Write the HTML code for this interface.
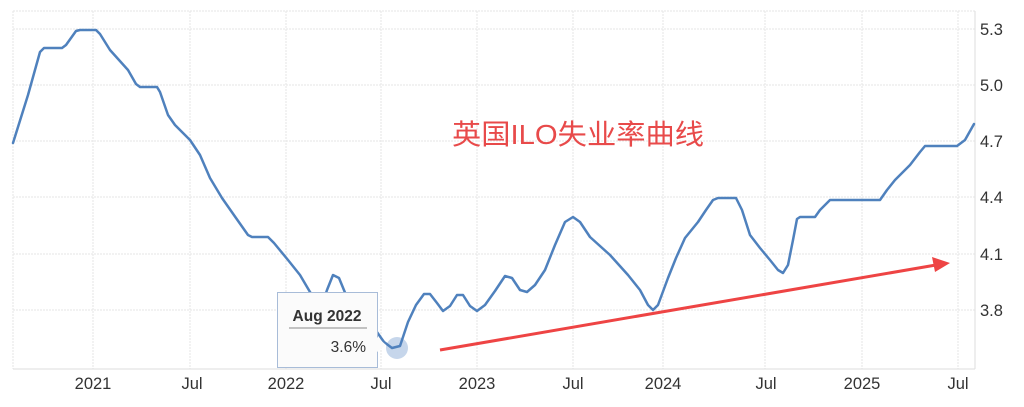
<!DOCTYPE html>
<html><head><meta charset="utf-8"><style>
body{margin:0;background:#fff;width:1024px;height:402px;overflow:hidden;font-family:"Liberation Sans",sans-serif}
</style></head><body>
<svg width="1024" height="402" xmlns="http://www.w3.org/2000/svg" font-family="Liberation Sans, sans-serif">
<g stroke="#e6e6e6" stroke-width="1" stroke-dasharray="2,1">
<line x1="13" y1="11" x2="975" y2="11"/>
<line x1="13" y1="29" x2="975" y2="29"/><line x1="13" y1="85" x2="975" y2="85"/><line x1="13" y1="141" x2="975" y2="141"/><line x1="13" y1="197" x2="975" y2="197"/><line x1="13" y1="254" x2="975" y2="254"/><line x1="13" y1="310" x2="975" y2="310"/>
<line x1="13" y1="11" x2="13" y2="369"/><line x1="93" y1="11" x2="93" y2="369"/><line x1="190" y1="11" x2="190" y2="369"/><line x1="286" y1="11" x2="286" y2="369"/><line x1="381" y1="11" x2="381" y2="369"/><line x1="477" y1="11" x2="477" y2="369"/><line x1="573" y1="11" x2="573" y2="369"/><line x1="663" y1="11" x2="663" y2="369"/><line x1="765" y1="11" x2="765" y2="369"/><line x1="862" y1="11" x2="862" y2="369"/><line x1="958" y1="11" x2="958" y2="369"/>
</g>
<line x1="975" y1="11" x2="975" y2="369" stroke="#ddd"/>
<line x1="13" y1="369" x2="975" y2="369" stroke="#ddd"/>
<g font-size="16.5" fill="#333">
<text x="980" y="35">5.3</text><text x="980" y="91">5.0</text><text x="980" y="147">4.7</text><text x="980" y="203">4.4</text><text x="980" y="260">4.1</text><text x="980" y="316">3.8</text>
</g>
<g font-size="16.5" fill="#333" text-anchor="middle">
<text x="93" y="389">2021</text><text x="192" y="389">Jul</text><text x="286" y="389">2022</text><text x="381" y="389">Jul</text><text x="477" y="389">2023</text><text x="573" y="389">Jul</text><text x="663" y="389">2024</text><text x="766" y="389">Jul</text><text x="862" y="389">2025</text><text x="958" y="389">Jul</text>
</g>
<circle cx="397" cy="348" r="11" fill="#b8cce6" opacity="0.8"/>
<polyline fill="none" stroke="#4f81bd" stroke-width="2.5" stroke-linejoin="round" stroke-linecap="round" points="13,143 28,95 40,52 44,48 62,48 66,45 76,31 80,30 96,30 100,34 110,50 128,70 136,84 140,87 157,87 160,92 168,115 175,125 190,140 200,155 210,178 222,198 236,218 248,235 252,237 268,237 274,243 288,260 300,275 310,292 316,300 322,305 327,290 333,275 339,278 346,295 352,308 360,318 372,325 384,342 392,348 400,346 408,322 416,305 424,294 430,294 437,303 443,311 450,306 457,295 463,295 470,306 477,311 485,305 495,291 505,276 512,278 520,290 527,292 535,285 545,270 555,245 565,222 573,217 580,222 590,237 610,255 628,275 640,290 648,305 653,310 658,305 668,278 676,258 685,238 698,222 706,210 713,200 718,198 736,198 742,210 750,235 760,248 770,260 778,270 783,273 788,265 793,240 797,219 800,217 815,217 820,210 830,200 880,200 887,190 895,180 910,165 920,152 925,146 957,146 965,140 974,124"/>
<g>
<line x1="440" y1="350" x2="936" y2="265" stroke="#ee4444" stroke-width="3"/>
<polygon points="950,263 932,257 935,272" fill="#ee4444"/>
</g>
<text x="452" y="144" font-size="28" fill="#e84a4a" font-family="Liberation Sans, Noto Sans CJK SC, sans-serif" textLength="252" lengthAdjust="spacingAndGlyphs">英国ILO失业率曲线</text>
<g>
<rect x="277.5" y="292.5" width="100" height="75" fill="#fbfbfb" stroke="#a8bcd8" stroke-width="1"/>
<polygon points="377,337 386,345 377,352" fill="#fbfbfb"/>
<text x="327" y="321" font-size="15.5" font-weight="bold" fill="#333" text-anchor="middle">Aug 2022</text>
<line x1="289" y1="328" x2="367" y2="328" stroke="#888"/>
<text x="366" y="352" font-size="15.5" fill="#333" text-anchor="end">3.6%</text>
</g>
</svg>
</body></html>
